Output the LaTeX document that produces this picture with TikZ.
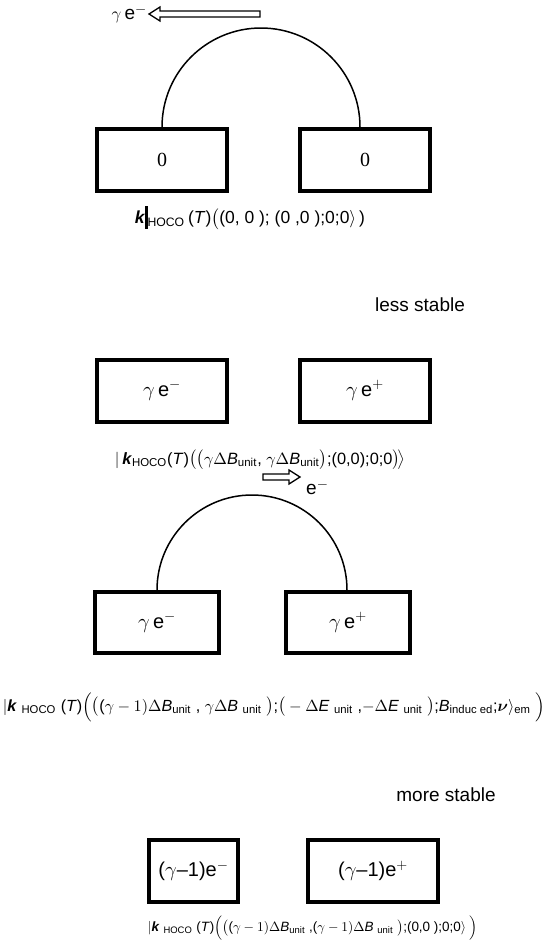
\documentclass[tikz,border=0pt]{standalone}
\usepackage{amsmath}
\usepackage{graphicx}
\usepackage{fontspec}
\setmainfont{Liberation Sans}
\newfontfamily\numfont{Liberation Serif}
\usetikzlibrary{positioning}

\begin{document}
\begin{tikzpicture}[x=1pt, y=-1pt,
  box/.style={draw, line width=4pt, minimum width=130pt, minimum height=62pt, inner sep=0pt, font=\fontsize{20}{20}\selectfont},
  flow/.style={draw, line width=1.3pt, line join=miter},
  lbl/.style={inner sep=0pt, font=\fontsize{19}{19}\selectfont},
  ket/.style={inner sep=0pt}]
\useasboundingbox (0,0) rectangle (552,945);

% ground state
\node[box] (l1) at (162,160) {\numfont 0};
\node[box, right=69pt of l1] (r1) {\numfont 0};
\draw[line width=1.5pt] (l1.north) arc[start angle=180, end angle=0, radius=99pt];
\coordinate (t1) at (149,14);
\draw[flow] (t1) -- ++(11,-7) -- ++(0,4) -- ++(100,0) -- ++(0,6) -- ++(-100,0) -- ++(0,4) -- cycle;
\node[lbl, left=2pt of t1] (e1) {$\gamma$\,e$^{-}$};
\node[ket] (k1) at (250,218) {\resizebox{230pt}{!}{\textbf{\textit{k}}\rule[-3pt]{1.2pt}{13pt}\textsubscript{HOCO}\,(\textit{T})$\big($(0, 0 ); (0 ,0 );0;0$\rangle$\,)}};

% less stable
\node[lbl] (ls) at (420,305) {less stable};
\node[box] (l2) at (162,390.5) {$\gamma$\,e$^{-}$};
\node[box, right=69pt of l2] (r2) {$\gamma$\,e$^{+}$};
\node[ket] (k2) at (260,460) {\resizebox{290pt}{!}{$|$\,\textbf{\textit{k}}\textsubscript{HOCO}(\textit{T})$\big(\big($$\gamma\Delta$\textit{B}\textsubscript{unit}, $\gamma\Delta$\textit{B}\textsubscript{unit}$\big)$;(0,0);0;0$\big)\!\big\rangle$}};
\coordinate (t2) at (300,477);
\draw[flow] (t2) -- ++(-11,-7) -- ++(0,4) -- ++(-26,0) -- ++(0,6) -- ++(26,0) -- ++(0,4) -- cycle;
\node[lbl, below right=3pt and 6pt of t2] (e2) {e$^{-}$};

% induced state
\node[box, minimum width=124pt, minimum height=61pt] (l3) at (157,622.5) {$\gamma$\,e$^{-}$};
\node[box, minimum width=124pt, minimum height=61pt, right=63pt of l3] (r3) {$\gamma$\,e$^{+}$};
\draw[line width=1.5pt] (l3.north) arc[start angle=180, end angle=0, radius=95pt];
\node[ket] (k3) at (274,707) {\resizebox{542pt}{!}{$|$\textbf{\textit{k}} \textsubscript{HOCO} (\textit{T})$\Big(\big($($\gamma-1)\Delta$\textit{B}\textsubscript{unit} , $\gamma\Delta$\textit{B} \textsubscript{unit} $\big)$;$\big(-\Delta$\textit{E} \textsubscript{unit} ,$-\Delta$\textit{E} \textsubscript{unit} $\big)$;\textit{B}\textsubscript{induc ed};$\boldsymbol{\nu}\rangle$\textsubscript{em} $\Big)$}};

% more stable
\node[lbl] (ms) at (446,795) {more stable};
\node[box, minimum width=89pt] (l4) at (193.5,871) {($\gamma$--1)e$^{-}$};
\node[box, right=66pt of l4] (r4) {($\gamma$--1)e$^{+}$};
\node[ket] (k4) at (313,928) {\resizebox{330pt}{!}{$|$\textbf{\textit{k}} \textsubscript{HOCO} (\textit{T})$\Big(\big($($\gamma-1)\Delta$\textit{B}\textsubscript{unit} ,($\gamma-1)\Delta$\textit{B} \textsubscript{unit} $\big)$;(0,0 );0;0$\rangle$ $\Big)$}};
\end{tikzpicture}
\end{document}
